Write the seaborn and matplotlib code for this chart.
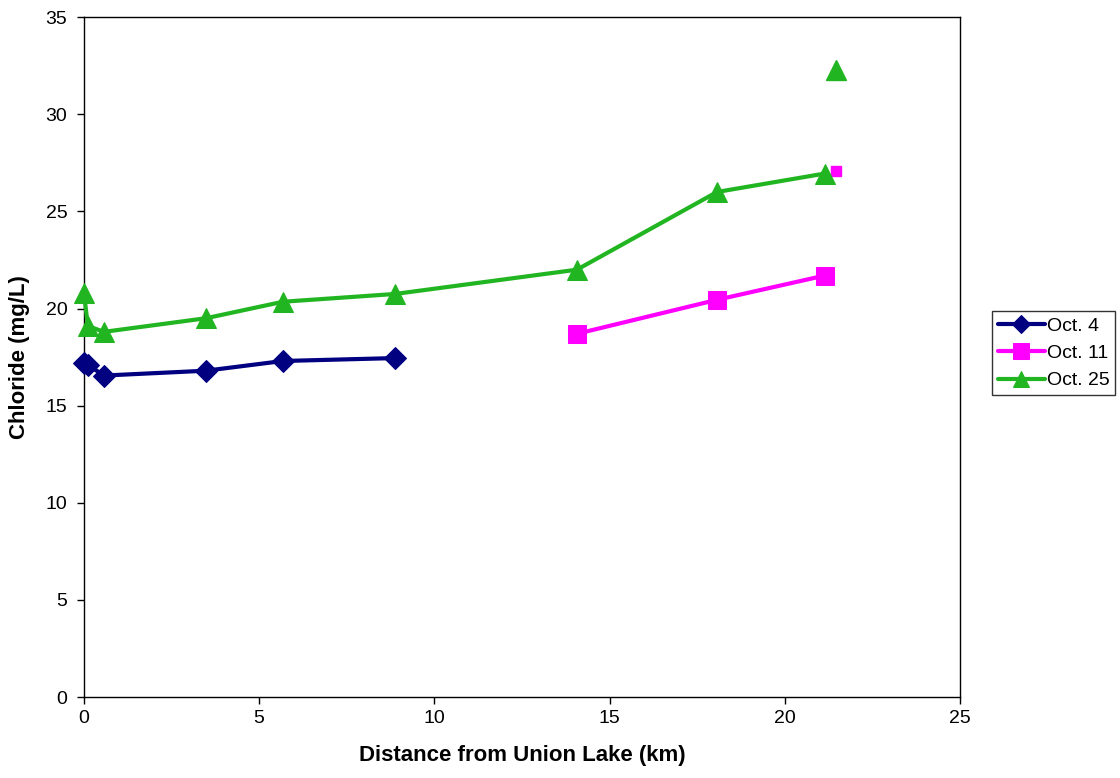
import pandas as pd
import matplotlib.pyplot as plt
import seaborn as sns

# values
oct4_km = [0.0, 0.11, 0.57, 3.48, 5.68, 8.88]
oct4_cl = [17.2, 17.1, 16.55, 16.8, 17.3, 17.45]

oct11_km = [14.07, 18.07, 21.15]
oct11_cl = [18.7, 20.45, 21.7]

oct25_km = [0.0, 0.11, 0.57, 3.48, 5.68, 8.88, 14.07, 18.07, 21.15]
oct25_cl = [20.8, 19.1, 18.8, 19.5, 20.35, 20.75, 22.0, 26.0, 26.95]

# lone points at the far end, not joined to the lines
extra_km = [21.46]
oct11_extra = [27.1]
oct25_extra = [32.3]

sns.set_style("ticks")
plt.rcParams['font.family'] = ['Liberation Sans', 'DejaVu Sans']
plt.rcParams['text.color'] = 'black'
plt.rcParams['axes.labelcolor'] = 'black'

fig = plt.figure(figsize=(11.2, 7.78), dpi=100)
ax = fig.add_axes([0.075, 0.104, 0.782, 0.874])

navy = "#000080"
magenta = "#ff00ff"
green = "#21b521"

sns.lineplot(x=oct4_km, y=oct4_cl, ax=ax, color=navy, lw=3, marker="D",
             markersize=11, markeredgecolor=navy, sort=False, label="Oct. 4",
             clip_on=False, zorder=3)
sns.lineplot(x=oct11_km, y=oct11_cl, ax=ax, color=magenta, lw=3, marker="s",
             markersize=13, markeredgecolor=magenta, sort=False, label="Oct. 11",
             clip_on=False, zorder=3)
sns.lineplot(x=oct25_km, y=oct25_cl, ax=ax, color=green, lw=3, marker="^",
             markersize=14, markeredgecolor=green, sort=False, label="Oct. 25",
             clip_on=False, zorder=3)

ax.plot(extra_km, oct11_extra, ls="none", marker="s", markersize=7,
        color=magenta, markeredgecolor=magenta, clip_on=False)
ax.plot(extra_km, oct25_extra, ls="none", marker="^", markersize=14,
        color=green, markeredgecolor=green, clip_on=False)

ax.set_xlim(0, 25)
ax.set_ylim(0, 35)
ax.set_xticks(range(0, 26, 5))
ax.set_yticks(range(0, 36, 5))
ax.tick_params(direction="out", length=5, width=1, labelsize=14, colors="black", pad=4)
ax.tick_params(axis="y", pad=7)
for s in ax.spines.values():
    s.set_visible(True)
    s.set_color("black")
    s.set_linewidth(1)

ax.set_xlabel("Distance from Union Lake (km)", fontsize=16, fontweight="bold", labelpad=13)
ax.set_ylabel("Chloride (mg/L)", fontsize=16, fontweight="bold", labelpad=11)

leg = ax.legend(loc="upper left", bbox_to_anchor=(0.886, 0.600),
                bbox_transform=fig.transFigure, frameon=True,
                fancybox=False, edgecolor="black", fontsize=14,
                handlelength=2.4, handletextpad=0.1, borderpad=0.3,
                labelspacing=0.5, borderaxespad=0, markerscale=0.85)
leg.get_frame().set_linewidth(1)
for t in leg.get_texts():
    t.set_color("black")

fig.savefig("out.png", dpi=100)
